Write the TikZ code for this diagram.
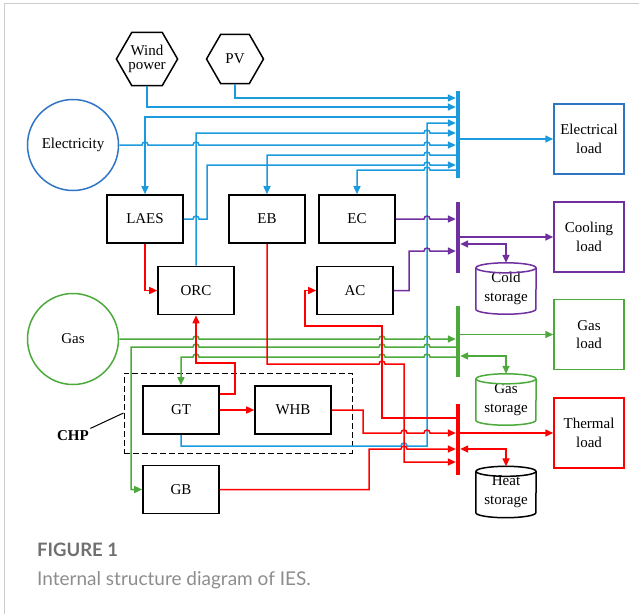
\documentclass[tikz,border=0pt]{standalone}
\usepackage{fontspec}
\setmainfont{Liberation Serif}
\newfontfamily\capfont{Lato}
\usetikzlibrary{shapes.geometric,arrows.meta,positioning}

\definecolor{elecblue}{RGB}{27,155,222}
\definecolor{elecdark}{RGB}{46,117,198}
\definecolor{coolpurple}{RGB}{112,48,160}
\definecolor{gasgreen}{RGB}{76,170,60}
\definecolor{heatred}{RGB}{255,0,0}
\definecolor{capgray}{RGB}{112,112,112}

\tikzset{
    unit/.style   = {rectangle, draw=black, line width=1.6pt, minimum width=76pt, minimum height=48pt, inner sep=0pt},
    load/.style   = {rectangle, line width=1.5pt, minimum width=70pt, minimum height=70pt, align=center, inner sep=0pt},
    source/.style = {circle, line width=1.5pt, minimum size=91pt, inner sep=0pt},
    hexa/.style   = {regular polygon, regular polygon sides=6, draw=black, line width=1.5pt, minimum size=57pt,
                     inner sep=0pt, align=center, font=\fontsize{15}{14.5}\selectfont},
    bus/.style    = {rectangle, inner sep=0pt, minimum width=4pt},
    store/.style  = {minimum width=60pt, minimum height=51pt, inner sep=0pt, align=center, font=\fontsize{15}{19}\selectfont},
    eline/.style  = {->, line width=1.5pt, draw=elecblue},
    cline/.style  = {->, line width=1.5pt, draw=coolpurple},
    gline/.style  = {->, line width=1.5pt, draw=gasgreen},
    hline/.style  = {->, line width=1.5pt, draw=heatred}
}

\begin{document}
\begin{tikzpicture}[
        x=1pt, y=1pt,
        >={Triangle[length=8pt,width=7pt]},
        every node/.style={font=\fontsize{15}{18.5}\selectfont}
    ]
    \useasboundingbox (0,0) rectangle (639,-614);
    \draw[black!20, line width=1pt] (4,-614) -- (4,-3) -- (639,-3);

    % --- Sources ---
    \node[hexa] (wind) at (147,-59) {Wind\\power};
    \node[hexa] (pv) at (235,-59) {PV};
    \node[source, draw=elecdark] (elec) at (73,-145) {Electricity};
    \node[source, draw=gasgreen] (gas) at (73,-339) {Gas};

    % --- Conversion Units ---
    \node[unit] (laes) at (145,-219) {LAES};
    \node[unit] (eb) at (267,-219) {EB};
    \node[unit] (ec) at (357,-219) {EC};
    \node[unit] (orc) at (196,-290.5) {ORC};
    \node[unit] (ac) at (355,-290.5) {AC};
    \node[unit] (gt) at (181,-410) {GT};
    \node[unit] (whb) at (293,-410) {WHB};
    \node[unit] (gb) at (181,-489.5) {GB};

    % CHP frame
    \node[draw, dashed, dash pattern=on 6pt off 3pt, line width=1pt, minimum width=228pt, minimum height=80pt, inner sep=0pt] (chp) at (238,-413) {};
    \node[font=\fontsize{15}{18}\selectfont\bfseries] (chplbl) at (73,-436) {CHP};
    \draw[line width=1pt] ([xshift=-2pt,yshift=-1pt]chplbl.north east) -- (chp.west);

    % --- Buses ---
    \node[bus, fill=elecblue, minimum height=87pt] (ebus) at (458,-134.5) {};
    \node[bus, fill=coolpurple, minimum height=71pt] (cbus) at (458,-237.5) {};
    \node[bus, fill=gasgreen, minimum height=71pt] (gbus) at (458,-341.5) {};
    \node[bus, fill=heatred, minimum height=71pt] (tbus) at (458,-439.5) {};

    % --- Loads ---
    \node[load, draw=elecdark] (eload) at (589,-139) {Electrical\\load};
    \node[load, draw=coolpurple] (cload) at (589,-237) {Cooling\\load};
    \node[load, draw=gasgreen] (gload) at (589,-334.5) {Gas\\load};
    \node[load, draw=heatred] (tload) at (589,-433) {Thermal\\load};

    % --- Storages ---
    \node[store] (cold) at (506,-288.5) {Cold\\storage};
    \node[store] (gstore) at (506,-399.5) {Gas\\storage};
    \node[store] (heat) at (506,-492) {Heat\\storage};
    \foreach \s/\col in {cold/coolpurple, gstore/gasgreen, heat/black} {
        \draw[draw=\col, line width=1.5pt] ([yshift=-5pt]\s.north) ellipse[x radius=30pt, y radius=5pt];
        \draw[draw=\col, line width=1.5pt] ([yshift=-5pt]\s.north west) -- ([yshift=5pt]\s.south west)
            arc[start angle=180, end angle=360, x radius=30pt, y radius=5pt] -- ([yshift=-5pt]\s.north east);
    }

    % --- Electricity Connections ---
    \draw[eline] (pv.south) |- (ebus.west |- 0,-98);
    \draw[eline] (wind.south) |- (ebus.west |- 0,-107);
    \draw[eline] (ebus.west |- 0,-117) -| (laes.north);
    \draw[eline] (orc.north) |- (424,-133) arc[start angle=180, end angle=0, radius=3pt] -- (ebus.west |- 0,-133);
    \draw[eline] (elec.east) -- (142,-145) arc[start angle=180, end angle=0, radius=3pt]
        -- (193,-145) arc[start angle=180, end angle=0, radius=3pt]
        -- (424,-145) arc[start angle=180, end angle=0, radius=3pt] -- (ebus.west |- 0,-145);
    \draw[eline] (ebus.west |- 0,-155) -- (430,-155) arc[start angle=0, end angle=180, radius=3pt] -| (eb.north);
    \draw[eline] (laes.east) -- (193,-219) arc[start angle=180, end angle=0, radius=3pt] -- (207,-219)
        -- (207,-165) -- (424,-165) arc[start angle=180, end angle=0, radius=3pt] -- (ebus.west |- 0,-165);
    \draw[eline] (ebus.west |- 0,-170) -- (430,-170) arc[start angle=0, end angle=180, radius=3pt] -| (ec.north);
    \draw[eline] (gt.south) |- (401,-446) arc[start angle=180, end angle=0, radius=3pt] -- (427,-446)
        -- (427,-123) -- (ebus.west |- 0,-123);
    \draw[eline] (ebus.east |- eload.west) -- (eload.west);

    % --- Cooling Connections ---
    \draw[cline] (ec.east) -- (424,-219) arc[start angle=180, end angle=0, radius=3pt] -- (cbus.west |- 0,-219);
    \draw[cline] (ac.east) -| (409,-251) -- (424,-251) arc[start angle=180, end angle=0, radius=3pt] -- (cbus.west |- 0,-251);
    \draw[cline] (cbus.east |- cload.west) -- (cload.west);
    \draw[cline, <->] (cbus.east |- 0,-244) -| (cold.north);

    % --- Gas Connections ---
    \draw[gline] (gas.east) -- (193,-339) arc[start angle=180, end angle=0, radius=3pt]
        -- (379,-339) arc[start angle=180, end angle=0, radius=3pt]
        -- (424,-339) arc[start angle=180, end angle=0, radius=3pt] -- (gbus.west |- 0,-339);
    \draw[gline] (gbus.west |- 0,-347) -- (430,-347) arc[start angle=0, end angle=180, radius=3pt]
        -- (385,-347) arc[start angle=0, end angle=180, radius=3pt]
        -- (199,-347) arc[start angle=0, end angle=180, radius=3pt] -- (131,-347) |- (gb.west);
    \draw[gline] (gbus.west |- 0,-357) -- (430,-357) arc[start angle=0, end angle=180, radius=3pt]
        -- (385,-357) arc[start angle=0, end angle=180, radius=3pt]
        -- (199,-357) arc[start angle=0, end angle=180, radius=3pt] -- (181,-357) -- (gt.north);
    \draw[gline] (gbus.east |- gload.west) -- (gload.west);
    \draw[gline, <->] (gbus.east |- 0,-356) -| (gstore.north);

    % --- Heat Connections ---
    \draw[hline] (laes.south) |- (orc.west);
    \draw[hline] (eb.south) |- (379,-364) arc[start angle=180, end angle=0, radius=3pt] -- (404,-364)
        -- (404,-462) -- (tbus.west |- 0,-462);
    \draw[hline] (tbus.west |- 0,-418) -- (382,-418) |- (305,-326) |- (ac.west);
    \draw[hline] ([yshift=16pt]gt.east) -| (235,-363) -| (orc.south);
    \draw[hline] (gt.east) -- (whb.west);
    \draw[hline] (whb.east) -| (363,-433) -- (401,-433) arc[start angle=180, end angle=0, radius=3pt]
        -- (424,-433) arc[start angle=180, end angle=0, radius=3pt] -- (tbus.west |- 0,-433);
    \draw[hline] (gb.east) -| (369,-449) -- (401,-449) arc[start angle=180, end angle=0, radius=3pt] -- (tbus.west |- 0,-449);
    \draw[hline] (tbus.east |- tload.west) -- (tload.west);
    \draw[hline, <->] (tbus.east |- 0,-449) -| (heat.north);

    % --- Caption ---
    \node[anchor=base west, inner sep=0pt, text=capgray, font=\capfont\fontsize{18.5}{22}\selectfont\bfseries] (figno) at (37,-556) {FIGURE 1};
    \node[anchor=base west, inner sep=0pt, text=capgray!80, font=\capfont\fontsize{19}{22}\selectfont] (figcap) at (37,-585) {Internal structure diagram of IES.};
\end{tikzpicture}
\end{document}
